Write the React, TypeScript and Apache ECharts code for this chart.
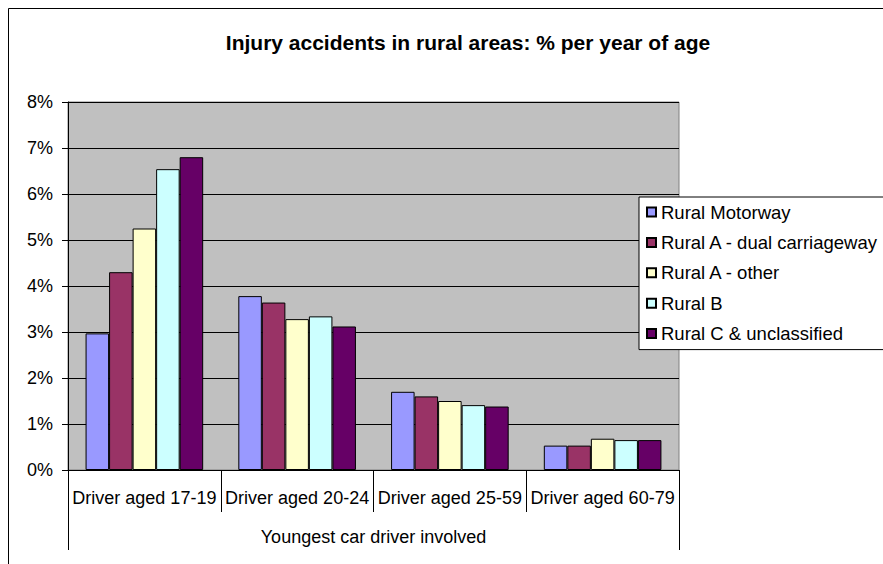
import React, { useEffect, useRef } from "react";
import * as echarts from "echarts";

const titleText = "Injury accidents in rural areas: % per year of age";
const axisTitle = "Youngest car driver involved";
const categories = ["Driver aged 17-19", "Driver aged 20-24", "Driver aged 25-59", "Driver aged 60-79"];
const seriesNames = [
  "Rural Motorway",
  "Rural A - dual carriageway",
  "Rural A - other",
  "Rural B",
  "Rural C & unclassified",
];
const ruralMotorway = [2.97, 3.78, 1.7, 0.53];
const ruralADual = [4.3, 3.64, 1.6, 0.53];
const ruralAOther = [5.25, 3.28, 1.5, 0.68];
const ruralB = [6.54, 3.34, 1.41, 0.65];
const ruralC = [6.8, 3.12, 1.38, 0.65];
const seriesValues = [ruralMotorway, ruralADual, ruralAOther, ruralB, ruralC];
const colors = ["#9999FF", "#993366", "#FFFFCC", "#CCFFFF", "#660066"];
const yMin = 0;
const yMax = 8;
const yStep = 1;

const W = 883;
const H = 564;
const FONT = '"Liberation Sans", Arial, sans-serif';

export default function App() {
  const ref = useRef<HTMLDivElement>(null);
  useEffect(() => {
    if (!ref.current) return;
    const chart = echarts.init(ref.current, undefined, { renderer: "svg" });
    const gridLeft = 68;
    const gridTop = 102;
    const gridRight = 204;
    const gridBottom = 94;
    chart.setOption({
      animation: false,
      backgroundColor: "#ffffff",
      textStyle: { fontFamily: FONT },
      graphic: [
        {
          type: "line",
          shape: { x1: 8.5, y1: 8.5, x2: W, y2: 8.5 },
          style: { stroke: "#000", lineWidth: 1 },
        },
        {
          type: "line",
          shape: { x1: 8.5, y1: 8.5, x2: 8.5, y2: H },
          style: { stroke: "#000", lineWidth: 1 },
        },
        {
          type: "text",
          x: 468,
          y: 42,
          style: {
            text: titleText,
            font: `bold 21px ${FONT}`,
            fill: "#000",
            textAlign: "center",
            textVerticalAlign: "middle",
          },
        },
      ],
      legend: {
        orient: "vertical",
        left: 639,
        top: 197,
        data: seriesNames,
        icon: "rect",
        itemWidth: 9,
        itemHeight: 9,
        itemGap: 10.4,
        itemTextGap: 5,
        padding: [5, 5, 6, 7],
        backgroundColor: "#ffffff",
        borderColor: "#000",
        borderWidth: 1,
        borderRadius: 0,
        textStyle: { fontSize: 18.5, lineHeight: 20, color: "#000", fontFamily: FONT },
      },
      grid: {
        left: gridLeft,
        top: gridTop,
        right: gridRight,
        bottom: gridBottom,
        show: true,
        backgroundColor: "#C0C0C0",
        borderColor: "#808080",
        borderWidth: 1,
        containLabel: false,
      },
      xAxis: [
        {
          type: "category",
          data: categories,
          position: "bottom",
          axisLine: { show: true, lineStyle: { color: "#000", width: 1 } },
          axisTick: { show: true, length: 42, interval: 0, lineStyle: { color: "#000" } },
          axisLabel: { fontSize: 18, color: "#000", margin: 19, interval: 0, fontFamily: FONT },
          splitLine: { show: false },
        },
        {
          type: "category",
          data: [axisTitle],
          position: "bottom",
          axisLine: { show: false },
          axisTick: { show: true, length: 80, interval: 0, lineStyle: { color: "#000" } },
          axisLabel: { fontSize: 18, color: "#000", margin: 58, fontFamily: FONT },
          splitLine: { show: false },
        },
      ],
      yAxis: {
        type: "value",
        min: yMin,
        max: yMax,
        interval: yStep,
        axisLine: { show: true, lineStyle: { color: "#000", width: 1 } },
        axisTick: { show: true, length: 6, lineStyle: { color: "#000" } },
        axisLabel: { formatter: "{value}%", fontSize: 18, color: "#000", margin: 15, fontFamily: FONT },
        splitLine: { show: true, lineStyle: { color: "#000", width: 1 } },
      },
      series: seriesNames.map((name, i) => ({
        name,
        type: "bar",
        xAxisIndex: 0,
        data: seriesValues[i],
        barGap: "0%",
        barCategoryGap: "23%",
        itemStyle: { color: colors[i], borderColor: "#000", borderWidth: 1 },
      })),
    });
    return () => chart.dispose();
  }, []);
  return (
    <div
      ref={ref}
      style={{ position: "fixed", left: 0, top: 0, width: W, height: H, background: "#fff" }}
    />
  );
}
